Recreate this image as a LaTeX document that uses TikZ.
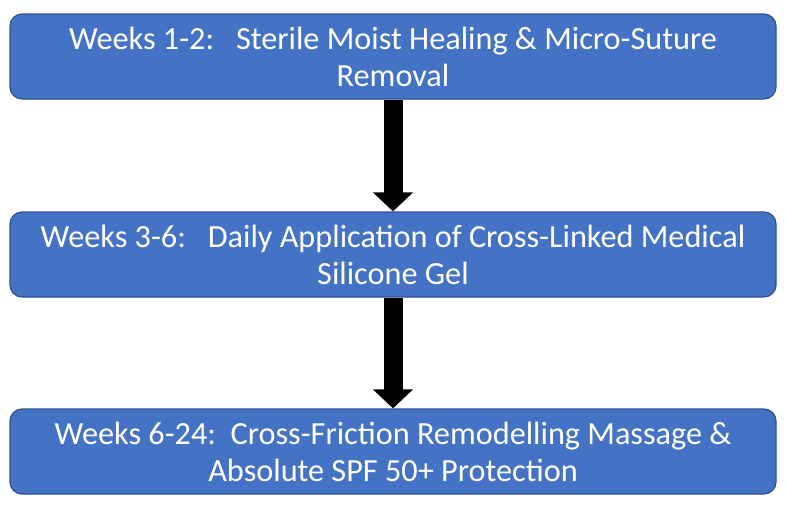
\documentclass[tikz,border=0pt]{standalone}
\usepackage{fontspec}
\setmainfont{Carlito}
\usepackage{tikz}
\usetikzlibrary{arrows.meta}
\definecolor{stageblue}{HTML}{4472C4}
\definecolor{stageedge}{HTML}{2F528F}
\tikzset{
  font={\fontsize{24.2pt}{27.75pt}\selectfont},
  stagebox/.style={draw=stageedge, line width=0.9pt, fill=stageblue, rounded corners=9pt,
    minimum width=574.5pt, minimum height=63.75pt, text=white, align=center, inner sep=0pt},
  bigarrow/.style={line width=14.25pt, -{Triangle[width=29.25pt,length=14.25pt]}}}

\begin{document}
\begin{tikzpicture}[x=0.75pt, y=-0.75pt]
%% The page is fixed to the size of the picture, margins included
    \useasboundingbox (0,0) rectangle (786,514);
%% The three stages, one under the other
    \node[stagebox] (weeksA) at (393,56.5) {Weeks 1-2:\ \ \ Sterile Moist Healing \& Micro-Suture\\Removal};
    \node[stagebox] (weeksB) at (393,254.5) {Weeks 3-6:\ \ \ Daily Application of Cross-Linked Medical\\Silicone Gel};
    \node[stagebox] (weeksC) at (393,451.5) {Weeks 6-24:\ \ Cross-Friction Remodelling Massage \&\\Absolute SPF 50+ Protection};
%% Thick black arrows between the stages
    \draw[bigarrow] (weeksA.south) -- (weeksB.north);
    \draw[bigarrow] (weeksB.south) -- (weeksC.north);
\end{tikzpicture}
\end{document}
